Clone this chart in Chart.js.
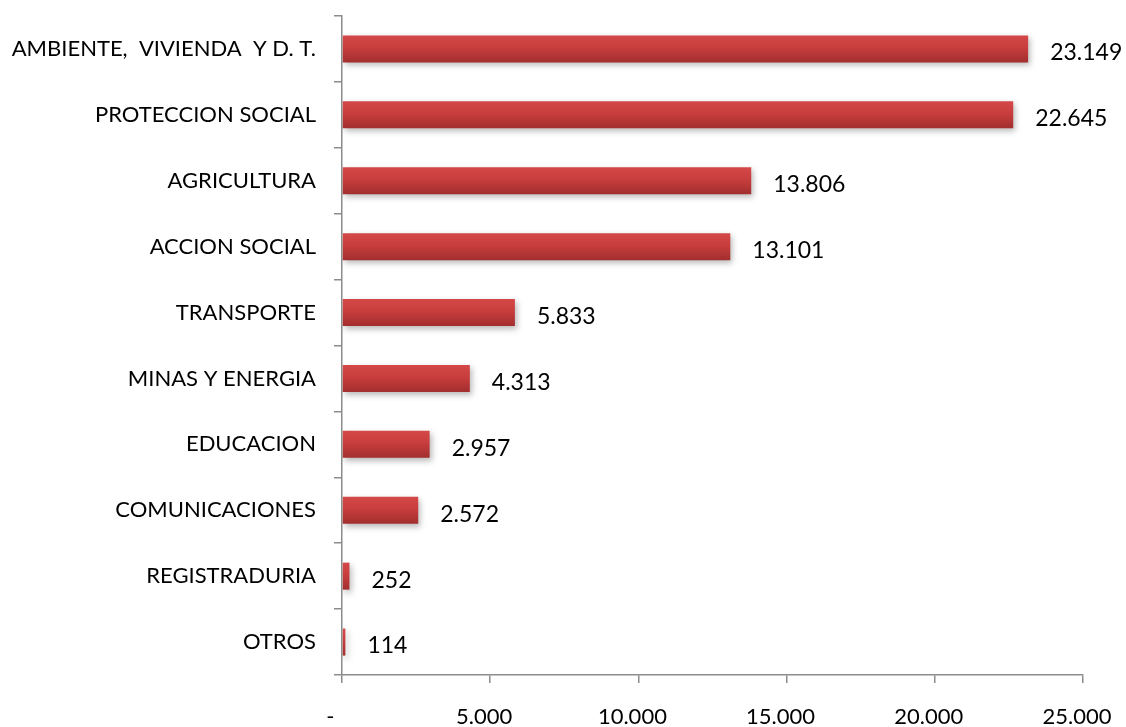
<!DOCTYPE html>
<html>
<head>
<meta charset="utf-8">
<script src="https://cdn.jsdelivr.net/npm/chart.js@4.4.1/dist/chart.umd.min.js"></script>
<style>
  html, body { margin: 0; padding: 0; background: #ffffff; }
  #wrap { width: 1126px; height: 727px; }
</style>
</head>
<body>
<div id="wrap"><canvas id="c" width="1126" height="727"></canvas></div>
<script>
// Sectores y montos (millones)
const categories = [
  'AMBIENTE,  VIVIENDA  Y D. T.',
  'PROTECCION SOCIAL',
  'AGRICULTURA',
  'ACCION SOCIAL',
  'TRANSPORTE',
  'MINAS Y ENERGIA',
  'EDUCACION',
  'COMUNICACIONES',
  'REGISTRADURIA',
  'OTROS'
];
const values = [23149, 22645, 13806, 13101, 5833, 4313, 2957, 2572, 252, 114];
const xTicks = [0, 5000, 10000, 15000, 20000, 25000];
const xTickLabels = ['-  ', '5.000', '10.000', '15.000', '20.000', '25.000'];

const FONT = 'Lato, "Open Sans", sans-serif';
const AXIS_GRAY = '#8c8c8c';

function fmt(v) {
  return String(v).replace(/\B(?=(\d{3})+(?!\d))/g, '.');
}

// Vertical gradient + soft shadow on each bar
const barStyle = {
  id: 'barStyle',
  beforeDatasetsDraw(chart) {
    const ctx = chart.ctx;
    chart.getDatasetMeta(0).data.forEach(el => {
      const top = el.y - el.height / 2;
      const bot = el.y + el.height / 2;
      const g = ctx.createLinearGradient(0, top, 0, bot);
      g.addColorStop(0, '#d44848');
      g.addColorStop(0.45, '#c83d3d');
      g.addColorStop(1, '#a22e2e');
      el.options = Object.assign({}, el.options, { backgroundColor: g });
    });
    ctx.save();
    ctx.shadowColor = 'rgba(0,0,0,0.28)';
    ctx.shadowBlur = 6;
    ctx.shadowOffsetX = 2;
    ctx.shadowOffsetY = 3;
  },
  afterDatasetsDraw(chart) {
    chart.ctx.restore();
  }
};

// Value labels to the right of each bar
const valueLabels = {
  id: 'valueLabels',
  afterDatasetsDraw(chart) {
    const ctx = chart.ctx;
    ctx.save();
    ctx.fillStyle = '#000000';
    ctx.font = '23px ' + FONT;
    ctx.textAlign = 'left';
    ctx.textBaseline = 'middle';
    chart.getDatasetMeta(0).data.forEach((el, i) => {
      ctx.fillText(fmt(values[i]), el.x + 22, el.y + 4);
    });
    ctx.restore();
  }
};

new Chart(document.getElementById('c'), {
  type: 'bar',
  data: {
    labels: categories,
    datasets: [{
      data: values,
      backgroundColor: '#c83d3d',
      borderWidth: 0,
      barPercentage: 0.41,
      categoryPercentage: 1.0
    }]
  },
  options: {
    indexAxis: 'y',
    responsive: false,
    animation: false,
    events: [],
    layout: { padding: { top: 16, right: 43, left: 0, bottom: 0 } },
    plugins: {
      legend: { display: false },
      tooltip: { enabled: false }
    },
    scales: {
      x: {
        type: 'linear',
        min: 0,
        max: 25000,
        afterBuildTicks(scale) {
          scale.ticks = xTicks.map(v => ({ value: v }));
        },
        afterFit(scale) {
          scale.height = 52;
          scale.paddingLeft = 0;
          scale.paddingRight = 0;
        },
        grid: {
          drawOnChartArea: false,
          drawTicks: true,
          tickLength: 8,
          color: AXIS_GRAY,
          lineWidth: 1.5
        },
        border: { display: true, color: AXIS_GRAY, width: 1.5 },
        ticks: {
          color: '#000000',
          font: { family: FONT, size: 22 },
          padding: 21,
          labelOffset: -6,
          maxRotation: 0,
          autoSkip: false,
          callback(value) {
            const i = xTicks.indexOf(value);
            return i >= 0 ? xTickLabels[i] : '';
          }
        }
      },
      y: {
        type: 'category',
        afterFit(scale) {
          scale.width = 342;
          scale.paddingTop = 0;
          scale.paddingBottom = 0;
        },
        grid: {
          offset: true,
          drawOnChartArea: false,
          drawTicks: true,
          tickLength: 8,
          color: AXIS_GRAY,
          lineWidth: 1.5
        },
        border: { display: true, color: AXIS_GRAY, width: 1.5 },
        ticks: {
          color: '#000000',
          font: { family: FONT, size: 22 },
          padding: 18,
          autoSkip: false
        }
      }
    }
  },
  plugins: [barStyle, valueLabels]
});
</script>
</body>
</html>
